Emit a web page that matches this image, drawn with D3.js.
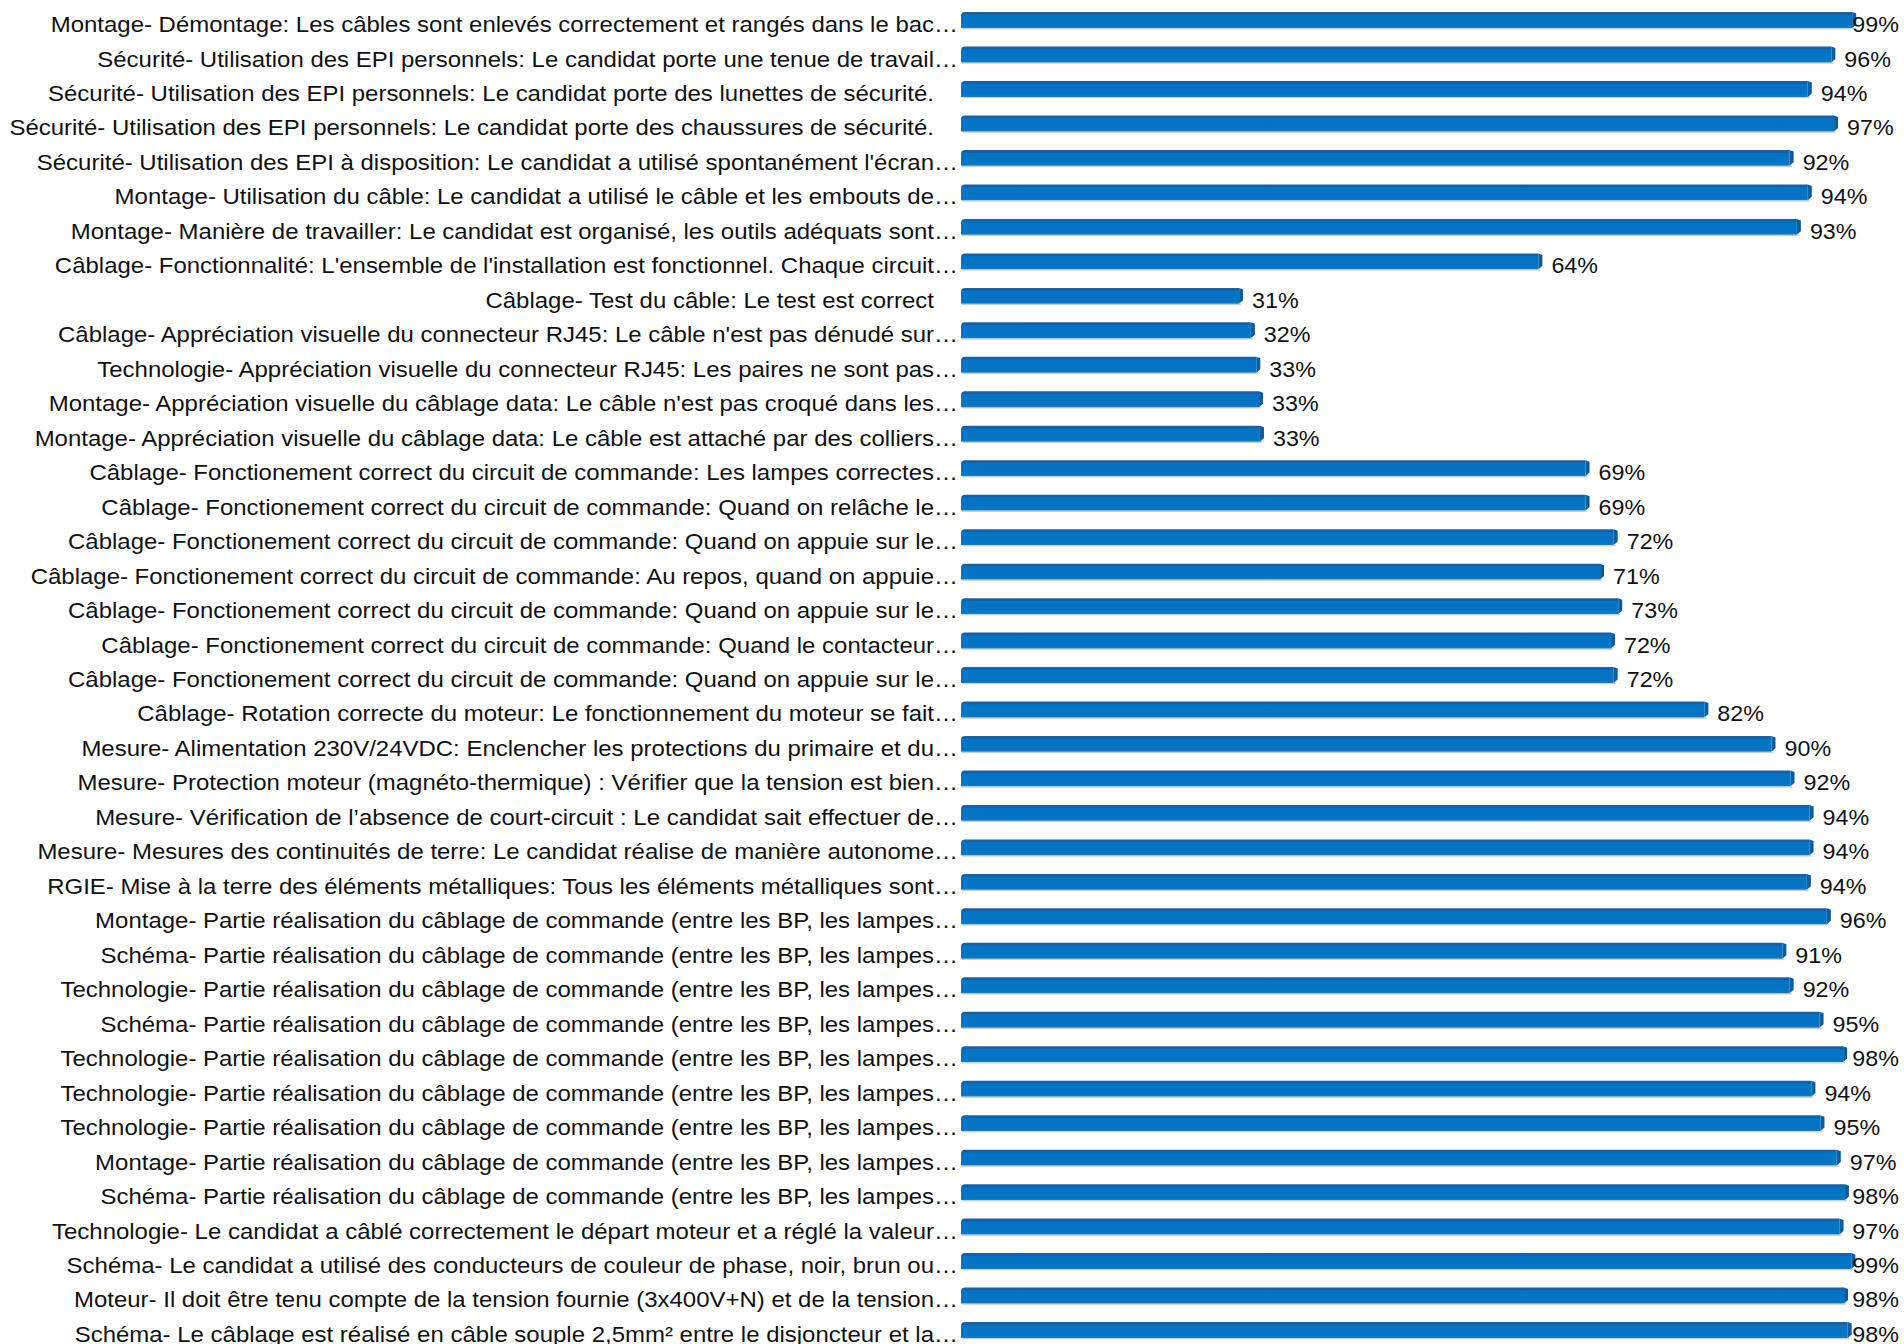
<!DOCTYPE html>
<html>
<head>
<meta charset="utf-8">
<script src="https://cdn.jsdelivr.net/npm/d3@7"></script>
<style>
  html, body { margin: 0; padding: 0; background: #ffffff; }
  svg { display: block; }
  text { font-family: "Liberation Sans", Arial, sans-serif; }
</style>
</head>
<body>
<svg id="chart" width="1904" height="1344"></svg>
<script>
const categories = [
  "Montage- Démontage: Les câbles sont enlevés correctement et rangés dans le bac…",
  "Sécurité- Utilisation des EPI personnels: Le candidat porte une tenue de travail…",
  "Sécurité- Utilisation des EPI personnels: Le candidat porte des lunettes de sécurité.",
  "Sécurité- Utilisation des EPI personnels: Le candidat porte des chaussures de sécurité.",
  "Sécurité- Utilisation des EPI à disposition: Le candidat a utilisé spontanément l'écran…",
  "Montage- Utilisation du câble: Le candidat a utilisé le câble et les embouts de…",
  "Montage- Manière de travailler: Le candidat est organisé, les outils adéquats sont…",
  "Câblage- Fonctionnalité: L'ensemble de l'installation est fonctionnel. Chaque circuit…",
  "Câblage- Test du câble: Le test est correct",
  "Câblage- Appréciation visuelle du connecteur RJ45: Le câble n'est pas dénudé sur…",
  "Technologie- Appréciation visuelle du connecteur RJ45: Les paires ne sont pas…",
  "Montage- Appréciation visuelle du câblage data: Le câble n'est pas croqué dans les…",
  "Montage- Appréciation visuelle du câblage data: Le câble est attaché par des colliers…",
  "Câblage- Fonctionement correct du circuit de commande: Les lampes correctes…",
  "Câblage- Fonctionement correct du circuit de commande: Quand on relâche le…",
  "Câblage- Fonctionement correct du circuit de commande: Quand on appuie sur le…",
  "Câblage- Fonctionement correct du circuit de commande: Au repos, quand on appuie…",
  "Câblage- Fonctionement correct du circuit de commande: Quand on appuie sur le…",
  "Câblage- Fonctionement correct du circuit de commande: Quand le contacteur…",
  "Câblage- Fonctionement correct du circuit de commande: Quand on appuie sur le…",
  "Câblage- Rotation correcte du moteur: Le fonctionnement du moteur se fait…",
  "Mesure- Alimentation 230V/24VDC: Enclencher les protections du primaire et du…",
  "Mesure- Protection moteur (magnéto-thermique) : Vérifier que la tension est bien…",
  "Mesure- Vérification de l’absence de court-circuit : Le candidat sait effectuer de…",
  "Mesure- Mesures des continuités de terre: Le candidat réalise de manière autonome…",
  "RGIE- Mise à la terre des éléments métalliques: Tous les éléments métalliques sont…",
  "Montage- Partie réalisation du câblage de commande (entre les BP, les lampes…",
  "Schéma- Partie réalisation du câblage de commande (entre les BP, les lampes…",
  "Technologie- Partie réalisation du câblage de commande (entre les BP, les lampes…",
  "Schéma- Partie réalisation du câblage de commande (entre les BP, les lampes…",
  "Technologie- Partie réalisation du câblage de commande (entre les BP, les lampes…",
  "Technologie- Partie réalisation du câblage de commande (entre les BP, les lampes…",
  "Technologie- Partie réalisation du câblage de commande (entre les BP, les lampes…",
  "Montage- Partie réalisation du câblage de commande (entre les BP, les lampes…",
  "Schéma- Partie réalisation du câblage de commande (entre les BP, les lampes…",
  "Technologie- Le candidat a câblé correctement le départ moteur et a réglé la valeur…",
  "Schéma- Le candidat a utilisé des conducteurs de couleur de phase, noir, brun ou…",
  "Moteur- Il doit être tenu compte de la tension fournie (3x400V+N) et de la tension…",
  "Schéma- Le câblage est réalisé en câble souple 2,5mm² entre le disjoncteur et la…"
];

// success rate (%) per question
const values = [
  98.7, 96.4, 93.8, 96.7, 91.8, 93.8, 92.6, 64.1, 31.1, 32.4,
  33.0, 33.3, 33.4, 69.3, 69.3, 72.4, 70.9, 72.9, 72.1, 72.4,
  82.4, 89.8, 91.9, 94.0, 94.0, 93.7, 95.9, 91.0, 91.8, 95.1,
  97.7, 94.2, 95.2, 97.0, 97.9, 97.3, 98.6, 97.8, 98.2
];

const xDomain = [0, 100];

const W = 1904, H = 1344;
const svg = d3.select("#chart");

const data = categories.map((c, i) => ({ i, label: c, value: values[i] }));

const x = d3.scaleLinear().domain(xDomain).range([961, 1868]);
const y = d3.scaleBand()
  .domain(data.map(d => d.i))
  .range([2.8, 1347.2])
  .paddingInner(0.54)
  .paddingOuter(0.27);

const defs = svg.append("defs");
const grad = defs.append("linearGradient")
  .attr("id", "barGrad").attr("x1", 0).attr("y1", 0).attr("x2", 0).attr("y2", 1);
[[0, "#2a5f94"], [0.14, "#1d5c9a"], [0.2, "#0573c4"], [0.88, "#0474c5"], [1, "#1b7fca"]]
  .forEach(([o, c]) => grad.append("stop").attr("offset", o).attr("stop-color", c));

const capGrad = defs.append("linearGradient")
  .attr("id", "capGrad").attr("x1", 0).attr("y1", 0).attr("x2", 1).attr("y2", 0);
[[0, "#0a64ad"], [1, "#0b5795"]]
  .forEach(([o, c]) => capGrad.append("stop").attr("offset", o).attr("stop-color", c));

const bh = y.bandwidth();
const x0 = x(0);

const rows = svg.append("g").selectAll("g.row")
  .data(data).join("g").attr("class", "row");

// light reflection line under each bar
rows.append("rect")
  .attr("x", x0 + 1)
  .attr("y", d => y(d.i) + bh)
  .attr("width", d => Math.max(0, x(d.value) - x0 - 3))
  .attr("height", 1.3)
  .attr("fill", "#aad6f3");

// bar body: rounded top-left corner
rows.append("path")
  .attr("d", d => {
    const t = y(d.i), b = t + bh, l = x0, r = x(d.value) - 4, rad = 4;
    return `M${l},${b} L${l},${t + rad} Q${l},${t} ${l + rad},${t} L${r},${t} L${r},${b} Z`;
  })
  .attr("fill", "url(#barGrad)");

// right bevel cap
rows.append("path")
  .attr("d", d => {
    const t = y(d.i), b = t + bh, r = x(d.value);
    return `M${r - 4},${t} L${r},${t + 1.5} L${r},${b - 3.5} L${r - 4},${b} Z`;
  })
  .attr("fill", "url(#capGrad)");

// category labels (slightly wide face as in the source)
const fs = 22, stretch = 1.09, vStretch = 1.06, labelRight = 958;
const probe = svg.append("text").attr("font-size", fs).text("…");
const ellW = probe.node().getComputedTextLength() * stretch;
probe.remove();

rows.append("text")
  .attr("transform", d => {
    const xr = labelRight - (d.label.endsWith("…") ? 0 : ellW);
    return `translate(${xr},${y(d.i) + bh / 2 + 12}) scale(${stretch},1)`;
  })
  .attr("text-anchor", "end")
  .attr("font-size", fs)
  .attr("fill", "#111")
  .text(d => d.label);

// value labels
const vl = rows.append("text")
  .attr("font-size", fs)
  .attr("fill", "#111")
  .text(d => Math.round(d.value) + "%");
vl.attr("transform", function(d) {
  const w = this.getComputedTextLength() * vStretch;
  const xl = Math.min(x(d.value) + 9, W - 5 - w);
  return `translate(${xl},${y(d.i) + bh / 2 + 12}) scale(${vStretch},1)`;
});
</script>
</body>
</html>
